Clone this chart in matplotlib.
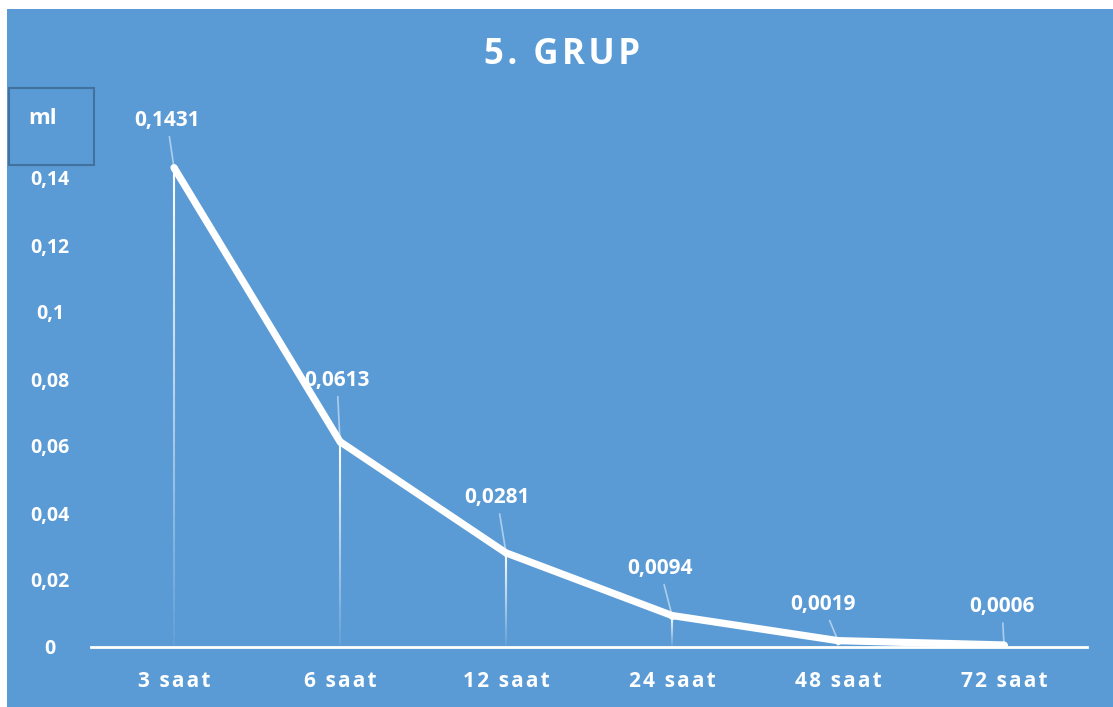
import numpy as np
import matplotlib
matplotlib.use("Agg")
import matplotlib.pyplot as plt
from matplotlib.collections import LineCollection
from matplotlib.patches import Rectangle

# volume per sampling time
times = ["3 saat", "6 saat", "12 saat", "24 saat", "48 saat", "72 saat"]
volumes = [0.1431, 0.0613, 0.0281, 0.0094, 0.0019, 0.0006]
value_labels = ["0,1431", "0,0613", "0,0281", "0,0094", "0,0019", "0,0006"]
yticks = [0, 0.02, 0.04, 0.06, 0.08, 0.1, 0.12, 0.14]
ytick_labels = ["0", "0,02", "0,04", "0,06", "0,08", "0,1", "0,12", "0,14"]

BG = "#5B9BD5"
plt.rcParams["font.family"] = ["Open Sans", "DejaVu Sans"]


def tracked(s):
    # widen character spacing with hair spaces
    return "\u200a".join(s)


fig = plt.figure(figsize=(11.13, 7.07), dpi=100)
fig.patch.set_facecolor("white")
fig.patches.append(Rectangle((7 / 1113, 0), 1, 1 - 9 / 707, transform=fig.transFigure,
                             facecolor=BG, edgecolor="none", zorder=-5))

ax = fig.add_axes([91 / 1113, 60 / 707, 996 / 1113, 536 / 707])
ax.set_facecolor("none")
x = np.arange(len(times))
ax.set_xlim(-0.5, len(times) - 0.5)
ax.set_ylim(0, 0.16)

# drop lines fading out towards the axis
n = 40
for xi, v in zip(x, volumes):
    ys = np.linspace(v, 0, n + 1)
    segs = [[(xi, ys[i]), (xi, ys[i + 1])] for i in range(n)]
    alphas = np.linspace(1.0, 0.05, n)
    cols = [(1, 1, 1, a) for a in alphas]
    ax.add_collection(LineCollection(segs, colors=cols, linewidths=1.5, zorder=2))

ax.plot(x, volumes, color="white", lw=5.2, solid_capstyle="round",
        solid_joinstyle="round", zorder=3)
ax.plot(x, volumes, "o", ms=4, mfc="white", mec="white", zorder=4)

# value labels with leader lines
offsets = [(-7, 47), (-3, 61), (-9, 55), (-12, 47), (-15, 36), (-2, 38)]
for xi, v, lab, (dx, dy) in zip(x, volumes, value_labels, offsets):
    ax.annotate(lab, xy=(xi, v), xytext=(dx, dy), textcoords="offset pixels",
                ha="center", va="center", color="white", fontsize=15, fontweight="bold",
                arrowprops=dict(arrowstyle="-", color="white", alpha=0.5, lw=1.2,
                                shrinkA=2, shrinkB=2), zorder=5)

ax.set_xticks(x)
ax.set_xticklabels([tracked(t) for t in times])
ax.set_yticks(yticks)
ax.set_yticklabels(ytick_labels)
ax.tick_params(length=0, colors="white")
ax.tick_params(axis="x", pad=17, labelsize=15)
ax.tick_params(axis="y", pad=0, labelsize=14)
for lab in ax.get_xticklabels() + ax.get_yticklabels():
    lab.set_fontweight("bold")
for lab in ax.get_yticklabels():
    lab.set_horizontalalignment("center")
    lab.set_x(-41 / 996)
for side in ("top", "right", "left"):
    ax.spines[side].set_visible(False)
ax.spines["bottom"].set_color("white")
ax.spines["bottom"].set_linewidth(2)

fig.text(562 / 1113, 1 - 55 / 707, tracked("5. GRUP"), ha="center", va="center",
         color="white", fontsize=25, fontweight="bold")

# unit box
fig.patches.append(Rectangle((9 / 1113, 1 - 165 / 707), 85 / 1113, 77 / 707,
                             transform=fig.transFigure, facecolor="none",
                             edgecolor="#41719C", lw=1.5, zorder=3))
fig.text(43 / 1113, 1 - 118 / 707, "ml", ha="center", va="center",
         color="white", fontsize=16, fontweight="bold")

fig.savefig("out.png", dpi=100)
